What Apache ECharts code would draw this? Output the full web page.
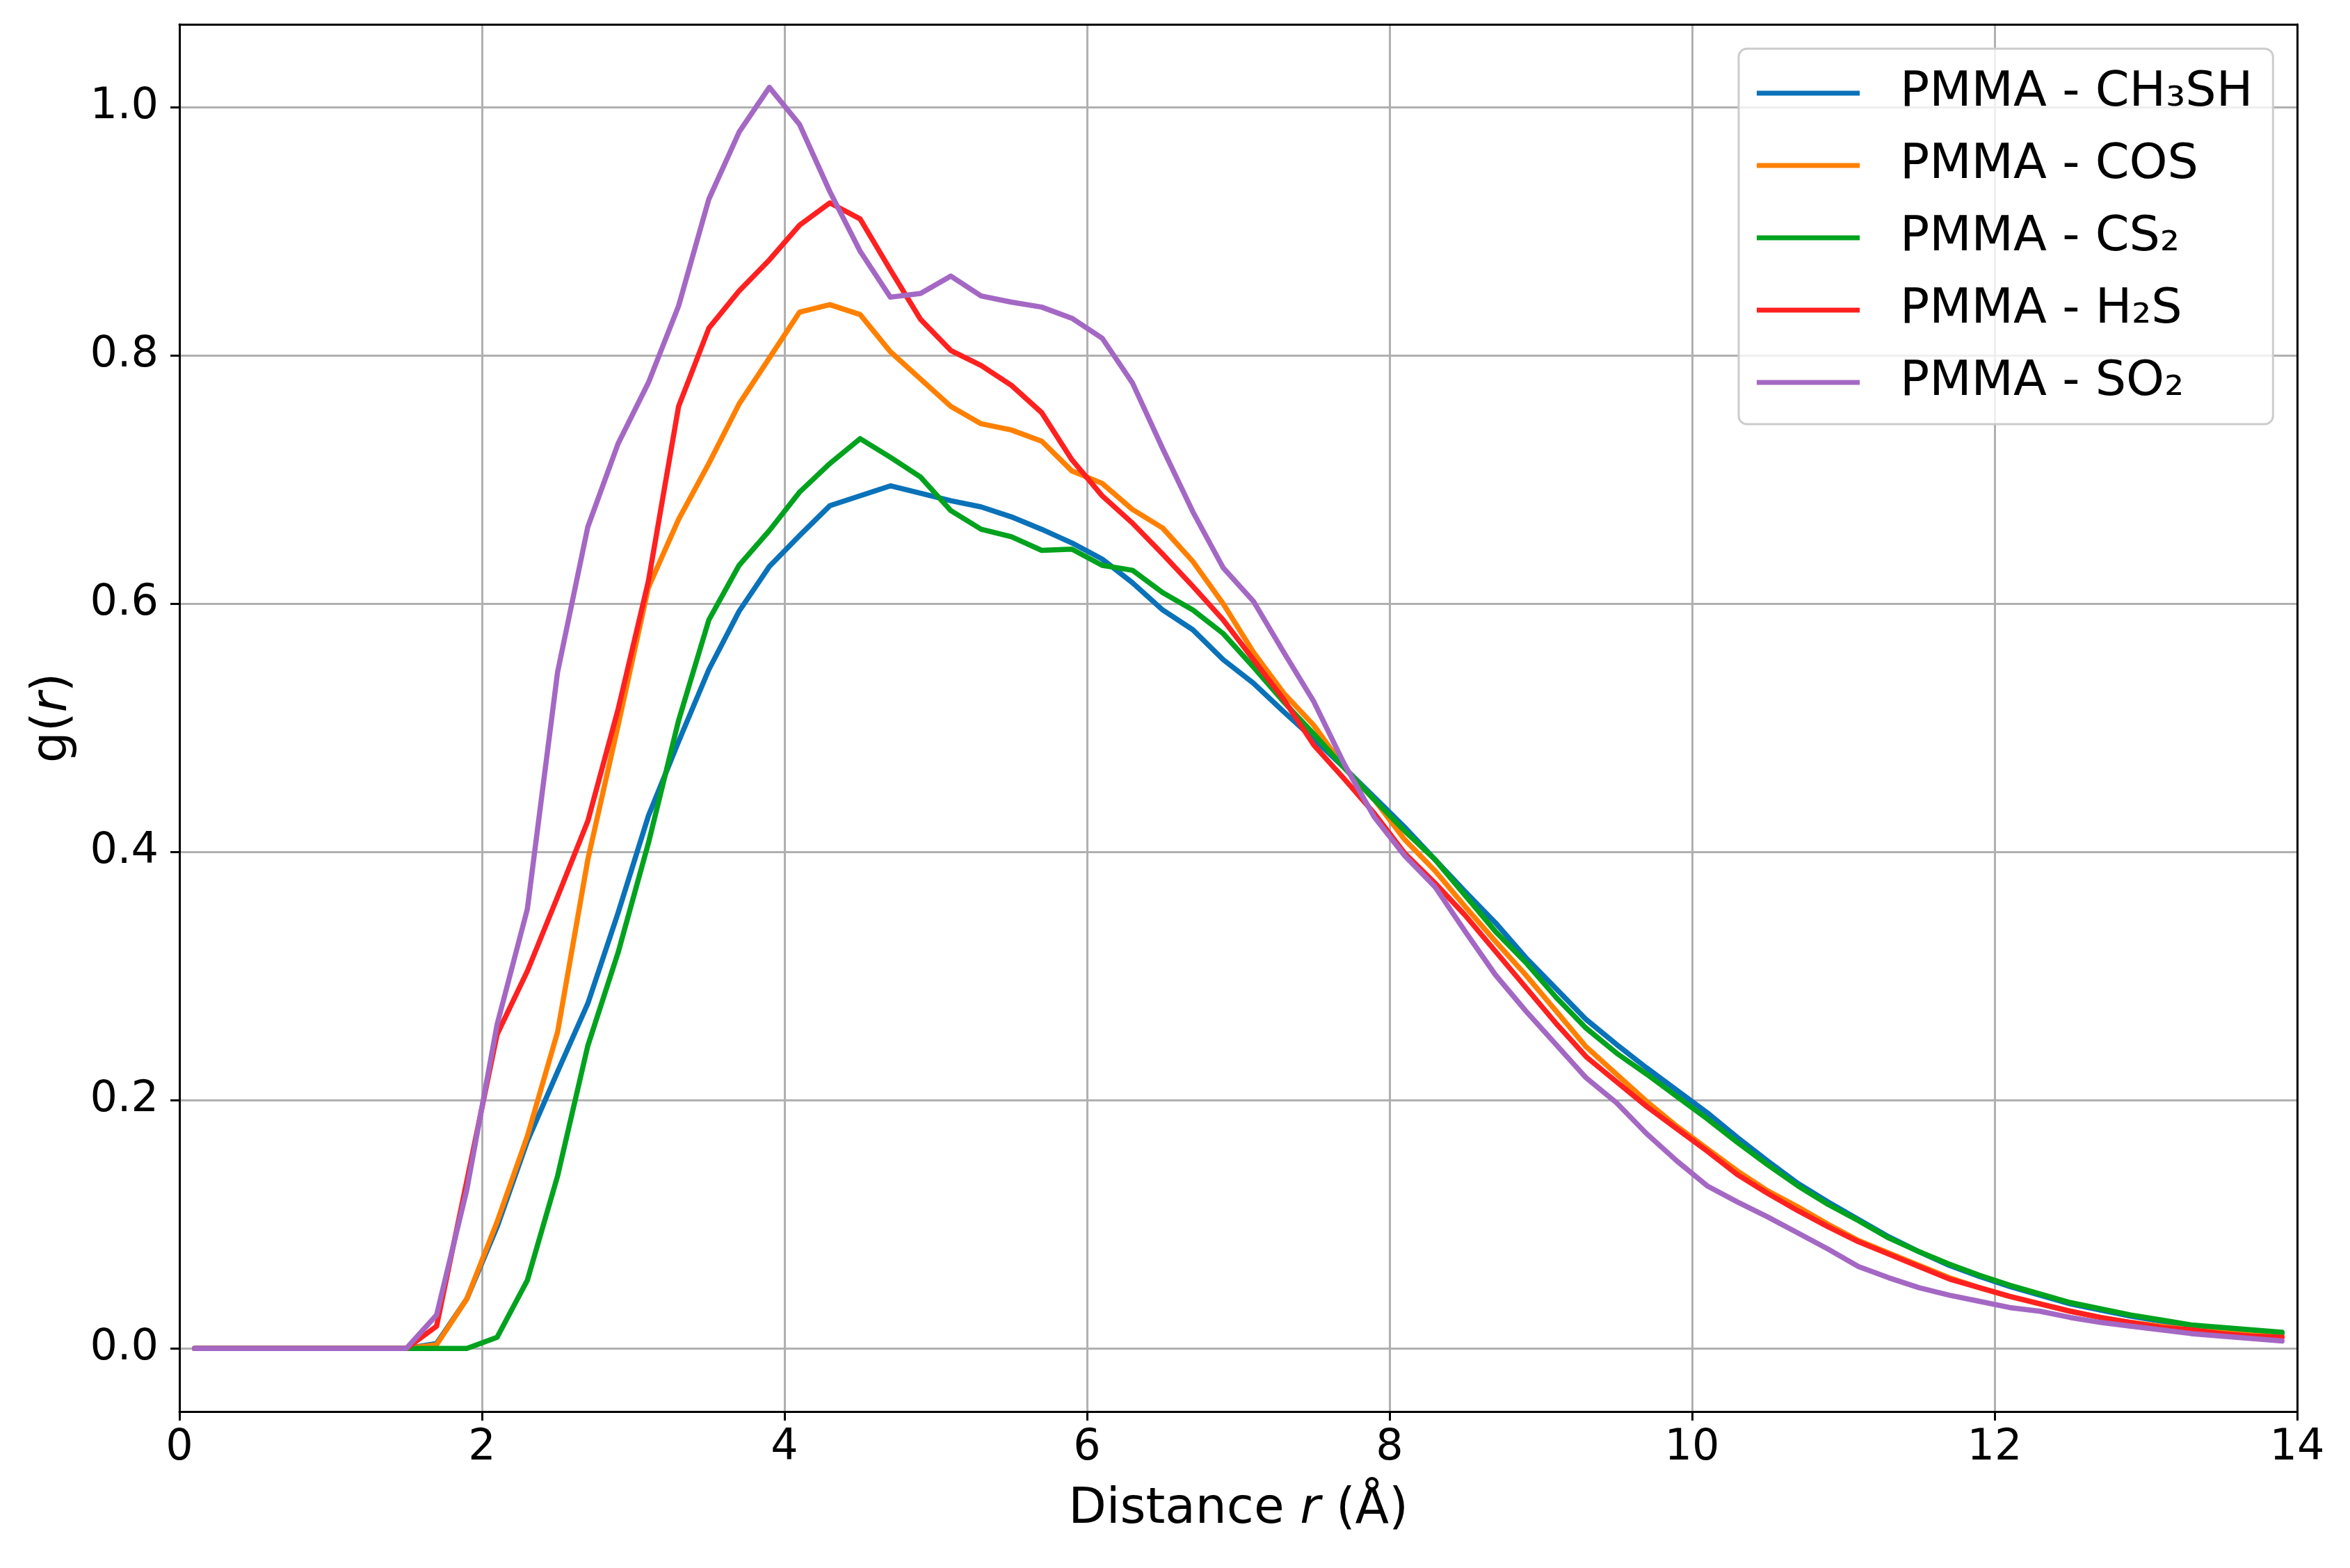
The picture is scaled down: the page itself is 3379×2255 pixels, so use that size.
<!DOCTYPE html>
<html>
<head>
<meta charset="utf-8">
<script src="https://cdn.jsdelivr.net/npm/echarts@6/dist/echarts.min.js"></script>
<style>
html,body{margin:0;padding:0;background:#fff;}
#chart{width:3379px;height:2255px;}
</style>
</head>
<body>
<div id="chart"></div>
<script>
// Distance r (Å)
const distance = [0.1,0.3,0.5,0.7,0.9,1.1,1.3,1.5,1.7,1.9,2.1,2.3,2.5,2.7,2.9,3.1,3.3,3.5,3.7,3.9,
  4.1,4.3,4.5,4.7,4.9,5.1,5.3,5.5,5.7,5.9,6.1,6.3,6.5,6.7,6.9,7.1,7.3,7.5,7.7,7.9,
  8.1,8.3,8.5,8.7,8.9,9.1,9.3,9.5,9.7,9.9,10.1,10.3,10.5,10.7,10.9,11.1,11.3,11.5,11.7,11.9,
  12.1,12.3,12.5,12.7,12.9,13.1,13.3,13.5,13.7,13.9];

const seriesNames = ['PMMA - CH₃SH','PMMA - COS','PMMA - CS₂','PMMA - H₂S','PMMA - SO₂'];

const gCH3SH = [0,0,0,0,0,0,0,0,0.004,0.040,0.098,0.167,0.223,0.278,0.351,0.429,0.489,0.547,0.594,0.630,
  0.655,0.679,0.687,0.695,0.689,0.683,0.678,0.670,0.660,0.649,0.636,0.617,0.595,0.579,0.555,0.536,0.513,0.491,0.468,0.444,
  0.420,0.394,0.368,0.343,0.315,0.290,0.265,0.245,0.226,0.208,0.190,0.170,0.151,0.133,0.118,0.104,0.090,0.078,0.067,0.058,
  0.050,0.043,0.036,0.031,0.026,0.022,0.018,0.016,0.014,0.012];

const gCOS = [0,0,0,0,0,0,0,0,0.003,0.040,0.102,0.171,0.255,0.394,0.502,0.613,0.668,0.713,0.761,0.798,
  0.835,0.841,0.833,0.803,0.781,0.759,0.745,0.740,0.731,0.707,0.697,0.676,0.661,0.634,0.600,0.561,0.528,0.502,0.468,0.442,
  0.410,0.385,0.356,0.328,0.301,0.272,0.243,0.221,0.199,0.179,0.161,0.143,0.127,0.114,0.100,0.087,0.077,0.067,0.057,0.049,
  0.042,0.036,0.030,0.025,0.021,0.018,0.015,0.013,0.011,0.010];

const gCS2 = [0,0,0,0,0,0,0,0,0,0,0.009,0.055,0.139,0.244,0.319,0.407,0.506,0.587,0.631,0.659,
  0.690,0.713,0.733,0.718,0.702,0.675,0.660,0.654,0.643,0.644,0.631,0.627,0.609,0.595,0.576,0.549,0.521,0.495,0.468,0.442,
  0.417,0.394,0.365,0.336,0.311,0.283,0.258,0.238,0.221,0.203,0.185,0.166,0.148,0.131,0.116,0.103,0.089,0.078,0.068,0.059,
  0.051,0.044,0.037,0.032,0.027,0.023,0.019,0.017,0.015,0.013];

const gH2S = [0,0,0,0,0,0,0,0,0.018,0.135,0.253,0.304,0.364,0.425,0.515,0.618,0.759,0.822,0.852,0.877,
  0.905,0.923,0.910,0.869,0.829,0.804,0.792,0.776,0.754,0.716,0.687,0.665,0.640,0.614,0.587,0.555,0.523,0.486,0.459,0.431,
  0.399,0.375,0.349,0.320,0.291,0.262,0.235,0.215,0.195,0.177,0.159,0.140,0.125,0.111,0.098,0.086,0.076,0.066,0.056,0.049,
  0.042,0.036,0.030,0.025,0.021,0.017,0.015,0.012,0.010,0.009];

const gSO2 = [0,0,0,0,0,0,0,0,0.027,0.128,0.261,0.354,0.545,0.662,0.729,0.778,0.840,0.926,0.980,1.016,
  0.986,0.932,0.884,0.847,0.850,0.864,0.848,0.843,0.839,0.830,0.814,0.778,0.725,0.674,0.629,0.602,0.561,0.521,0.471,0.428,
  0.397,0.372,0.336,0.301,0.272,0.245,0.218,0.198,0.173,0.151,0.131,0.118,0.106,0.093,0.080,0.066,0.057,0.049,0.043,0.038,
  0.033,0.030,0.025,0.021,0.018,0.015,0.012,0.010,0.008,0.006];

const xTicks = [0,2,4,6,8,10,12,14];
const yTicks = [0.0,0.2,0.4,0.6,0.8,1.0];

const colors = ['#0a72b8','#ff8000','#00a21e','#ff2020','#a468c4'];
const allSeries = [gCH3SH,gCOS,gCS2,gH2S,gSO2];

const FONT = 'DejaVu Sans';
const chart = echarts.init(document.getElementById('chart'), null, {renderer:'canvas', width:3379, height:2255, devicePixelRatio:1});

const grayGrid = {show:true, lineStyle:{color:'#b0b0b0', width:3}};

const option = {
  backgroundColor:'#ffffff',
  animation:false,
  textStyle:{fontFamily:FONT},
  grid:[
    {left:258, right:76, top:35, bottom:225, containLabel:false},
    {left:258, right:76, top:154, bottom:316, containLabel:false}
  ],
  xAxis:[
    {type:'value', gridIndex:0, position:'bottom', min:xTicks[0], max:xTicks[xTicks.length-1], interval:2,
     axisLine:{show:true, onZero:false, lineStyle:{color:'#000', width:3}},
     axisTick:{show:true, inside:false, length:13, lineStyle:{color:'#000', width:3}},
     axisLabel:{show:true, fontSize:62, color:'#000', margin:22, fontFamily:FONT},
     splitLine:grayGrid,
     name:'Distance {it|r} (Å)', nameLocation:'middle', nameGap:106,
     nameTextStyle:{fontSize:71, color:'#000', fontFamily:FONT,
       rich:{it:{fontStyle:'italic', fontSize:71, fontFamily:FONT, color:'#000'}}}},
    {type:'value', gridIndex:0, position:'top', min:0, max:14,
     axisLine:{show:true, onZero:false, lineStyle:{color:'#000', width:3}},
     axisTick:{show:false}, axisLabel:{show:false}, splitLine:{show:false}},
    {type:'value', gridIndex:1, min:0, max:14, show:false}
  ],
  yAxis:[
    {type:'value', gridIndex:0, position:'left', min:-0.0508, max:1.0668,
     axisLine:{show:true, onZero:false, lineStyle:{color:'#000', width:3}},
     axisTick:{show:false}, axisLabel:{show:false}, splitLine:{show:false},
     name:'g({it|r})', nameLocation:'middle', nameRotate:90, nameGap:146,
     nameTextStyle:{fontSize:71, color:'#000', fontFamily:FONT,
       rich:{it:{fontStyle:'italic', fontSize:71, fontFamily:FONT, color:'#000'}}}},
    {type:'value', gridIndex:0, position:'right', min:-0.0508, max:1.0668,
     axisLine:{show:true, onZero:false, lineStyle:{color:'#000', width:3}},
     axisTick:{show:false}, axisLabel:{show:false}, splitLine:{show:false}},
    {type:'value', gridIndex:1, position:'left', min:yTicks[0], max:yTicks[yTicks.length-1], interval:0.2,
     axisLine:{show:false},
     axisTick:{show:true, inside:false, length:13, lineStyle:{color:'#000', width:3}},
     axisLabel:{show:true, fontSize:62, color:'#000', margin:30, fontFamily:FONT,
       formatter:function(v){return v.toFixed(1);}},
     splitLine:grayGrid}
  ],
  legend:{
    show:true, orient:'vertical', left:2500, top:70,
    padding:[29,29,25,26], itemGap:34, itemWidth:148, itemHeight:7, icon:'rect',
    backgroundColor:'rgba(255,255,255,0.8)', borderColor:'#cccccc', borderWidth:3, borderRadius:12,
    textStyle:{fontSize:70, lineHeight:70, color:'#000', fontFamily:FONT, padding:[0,0,0,53]},
    data:seriesNames
  },
  series: allSeries.map(function(ys, k){
    return {
      name:seriesNames[k], type:'line', xAxisIndex:0, yAxisIndex:0,
      data: distance.map(function(x,i){return [x, ys[i]];}),
      showSymbol:false, symbol:'none', clip:true, z:5,
      itemStyle:{color:colors[k]},
      lineStyle:{color:colors[k], width:7.5, join:'round', cap:'round'},
      emphasis:{disabled:true}
    };
  })
};
chart.setOption(option);
</script>
</body>
</html>
